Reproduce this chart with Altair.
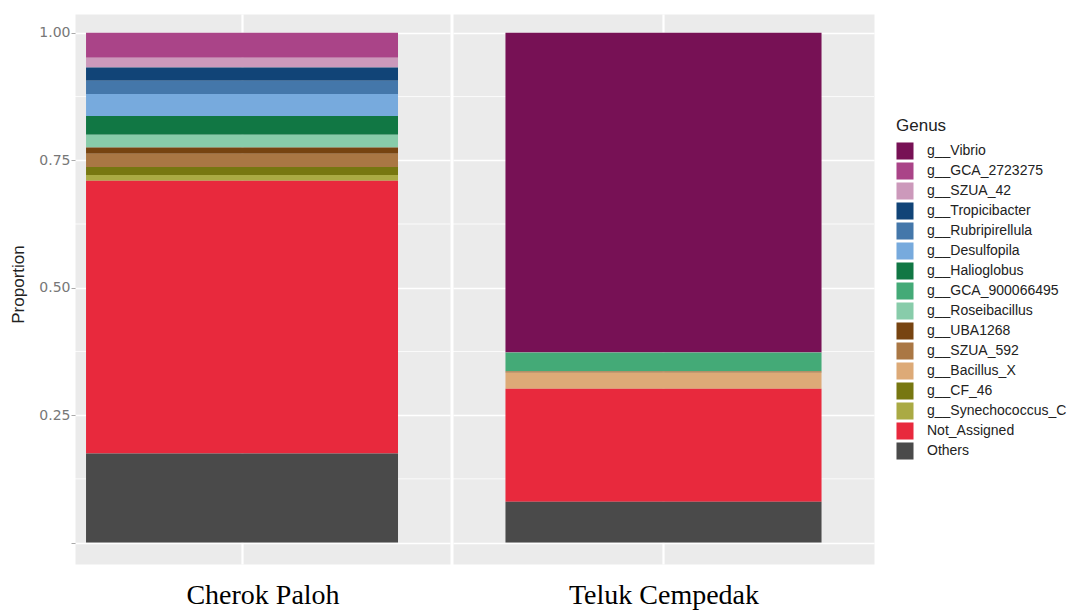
import altair as alt
import pandas as pd

genera = ["g__Vibrio", "g__GCA_2723275", "g__SZUA_42", "g__Tropicibacter",
          "g__Rubripirellula", "g__Desulfopila", "g__Halioglobus", "g__GCA_900066495",
          "g__Roseibacillus", "g__UBA1268", "g__SZUA_592", "g__Bacillus_X",
          "g__CF_46", "g__Synechococcus_C", "Not_Assigned", "Others"]
colors = ["#771155", "#AA4488", "#CC99BB", "#114477", "#4477AA", "#77AADD",
          "#117744", "#44AA77", "#88CCAA", "#774411", "#AA7744", "#DDAA77",
          "#777711", "#AAAA44", "#E8293D", "#4A4A4A"]

samples = ["Cherok Paloh", "Teluk Cempedak"]
cherok_paloh = [0.0, 0.049, 0.019, 0.026, 0.026, 0.043, 0.037, 0.0,
                0.025, 0.012, 0.026, 0.0, 0.016, 0.011, 0.535, 0.175]
teluk_cempedak = [0.626, 0.001, 0.0, 0.0, 0.0, 0.0, 0.0, 0.037,
                  0.0, 0.0, 0.003, 0.031, 0.0, 0.0, 0.222, 0.080]

major_ticks = [0.0, 0.25, 0.5, 0.75, 1.0]
minor_ticks = [0.125, 0.375, 0.625, 0.875]

y_scale = alt.Scale(domain=[-0.042, 1.037], nice=False, zero=False)
color_scale = alt.Scale(domain=genera, range=colors)
legend = alt.Legend(title="Genus", orient="none", legendX=821, legendY=104,
                    titleFontSize=17, titleFontWeight="normal", titleColor="#222",
                    titleFont="Liberation Sans", labelFont="Liberation Sans",
                    labelFontSize=14, labelColor="#222", symbolType="square",
                    symbolSize=290, symbolStrokeWidth=0, symbolOpacity=1,
                    rowPadding=2, labelOffset=13, titlePadding=7)


def panel(sample, values, width, pad_outer, align, first):
    df = pd.DataFrame({"Sample": sample, "Genus": genera,
                       "Proportion": values, "rank": list(range(len(genera)))})
    if first:
        yaxis = alt.Axis(values=major_ticks, title="Proportion",
                         labelExpr="datum.value == 0 ? '' : format(datum.value, '.2f')",
                         labelFont="DejaVu Sans", labelFontSize=14, labelColor="#777777",
                         titleFont="Liberation Sans", titleFontSize=17, titleFontWeight="normal",
                         titleColor="#222", titlePadding=11, titleY=270,
                         ticks=True, tickSize=4, tickColor="#aaaaaa", labelPadding=1,
                         domain=False, grid=True, gridColor="white", gridWidth=1.6)
    else:
        yaxis = alt.Axis(values=major_ticks, title=None, labels=False, ticks=False,
                         domain=False, grid=True, gridColor="white", gridWidth=1.6)
    minor = alt.Chart(pd.DataFrame({"Proportion": minor_ticks})).mark_rule(
        color="white", strokeWidth=0.8
    ).encode(y=alt.Y("Proportion:Q", scale=y_scale, axis=yaxis))
    bars = alt.Chart(df).mark_bar().encode(
        x=alt.X("Sample:N",
                scale=alt.Scale(paddingInner=0, paddingOuter=pad_outer, align=align),
                axis=alt.Axis(title=sample, labels=False, ticks=False, domain=False,
                              grid=True, gridColor="white", gridWidth=2.2,
                              titleFont="Liberation Serif", titleFontSize=28,
                              titleFontWeight="normal", titleColor="black",
                              titlePadding=17)),
        y=alt.Y("Proportion:Q", stack="zero", scale=y_scale, axis=yaxis),
        color=alt.Color("Genus:N", scale=color_scale, legend=legend),
        order=alt.Order("rank:Q", sort="descending"),
    )
    return alt.layer(minor, bars).properties(width=width, height=550)


left = panel(samples[0], cherok_paloh, 375, 0.101, 0.175, True)
right = panel(samples[1], teluk_cempedak, 421, 0.166, 0.5, False)

chart = alt.hconcat(left, right, spacing=1).properties(
    padding={"left": 9, "top": 13, "right": 2, "bottom": 2},
    background="white",
).configure_view(fill="#EBEBEB", stroke="transparent")

chart.save("out.html", embed_options={"renderer": "svg", "actions": False})
